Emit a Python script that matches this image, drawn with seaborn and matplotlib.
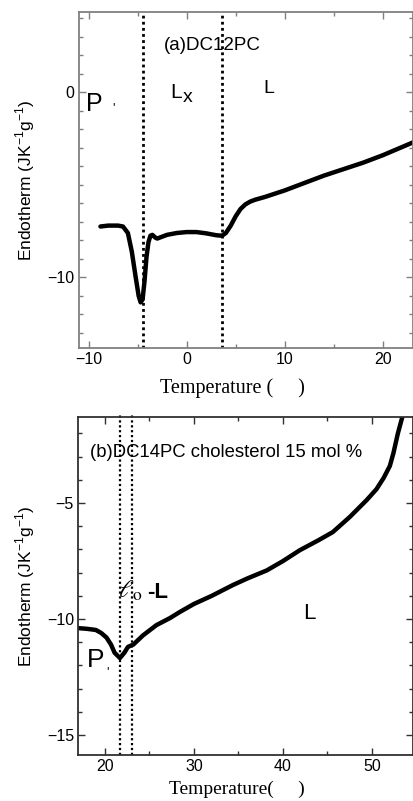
import matplotlib
matplotlib.use("Agg")
import matplotlib.pyplot as plt
import seaborn as sns
import pandas as pd
from matplotlib.ticker import MultipleLocator

# ---- data: panel (a) DC12PC ----
temp_a = [-8.8, -8.0, -7.0, -6.5, -6.0, -5.6, -5.2, -4.9, -4.7, -4.5, -4.3, -4.1,
          -3.9, -3.7, -3.5, -3.2, -3.0, -2.5, -2.0, -1.0, 0.0, 1.0, 2.0, 3.0, 3.6,
          4.0, 4.5, 5.0, 5.5, 6.0, 6.5, 7.0, 8.0, 10.0, 12.0, 14.0, 16.0, 18.0,
          20.0, 22.0, 23.1]
endo_a = [-7.25, -7.2, -7.2, -7.25, -7.6, -8.6, -10.0, -11.0, -11.35, -11.2, -10.2,
          -8.9, -8.1, -7.75, -7.7, -7.85, -7.9, -7.8, -7.7, -7.6, -7.55, -7.55,
          -7.62, -7.72, -7.75, -7.6, -7.2, -6.7, -6.3, -6.05, -5.9, -5.8, -5.65,
          -5.3, -4.9, -4.5, -4.15, -3.8, -3.4, -2.95, -2.7]
trans_a = [-4.5, 3.65]

# ---- data: panel (b) DC14PC + cholesterol 15 mol % ----
temp_b = [17.0, 18.0, 19.0, 19.6, 20.2, 20.7, 21.1, 21.7, 22.2, 22.6, 23.2, 24.3,
          25.8, 27.3, 28.4, 30.0, 32.0, 34.4, 36.0, 38.2, 40.0, 41.9, 44.0, 45.6,
          47.5, 49.4, 50.5, 51.3, 52.0, 52.4, 52.9, 53.4, 53.7]
endo_b = [-10.39, -10.42, -10.47, -10.6, -10.8, -11.1, -11.45, -11.68, -11.45,
          -11.2, -11.1, -10.7, -10.26, -9.96, -9.7, -9.35, -9.0, -8.53, -8.25,
          -7.9, -7.5, -7.03, -6.6, -6.25, -5.6, -4.87, -4.4, -3.92, -3.4, -2.85,
          -2.0, -1.29, -0.3]
trans_b = [21.7, 23.1]

xticks_a = [-10, 0, 10, 20]
yticks_a = [0, -10]
xticks_b = [20, 30, 40, 50]
yticks_b = [-5, -10, -15]

sns.set_style("ticks")
plt.rcParams["font.family"] = ["Liberation Sans", "DejaVu Sans"]
plt.rcParams["axes.unicode_minus"] = True
plt.rcParams["text.color"] = "black"
plt.rcParams["axes.labelcolor"] = "black"

fig = plt.figure(figsize=(4.13, 8.01), dpi=100)
ax1 = fig.add_axes([0.191, 0.5655, 0.809, 0.4198])
ax2 = fig.add_axes([0.189, 0.0574, 0.811, 0.422])

df_a = pd.DataFrame({"T": temp_a, "E": endo_a})
df_b = pd.DataFrame({"T": temp_b, "E": endo_b})

sns.lineplot(data=df_a, x="T", y="E", ax=ax1, color="black", lw=3.2,
             solid_capstyle="round", solid_joinstyle="round")
sns.lineplot(data=df_b, x="T", y="E", ax=ax2, color="black", lw=3.2,
             solid_capstyle="round", solid_joinstyle="round")

for t in trans_a:
    ax1.axvline(t, color="black", lw=2.0, ls=(0, (1, 1.2)))
for t in trans_b:
    ax2.axvline(t, color="black", lw=1.6, ls=(0, (1, 1.2)), ymax=1.01, clip_on=False)

ax1.set_xlim(-11.0, 23.1)
ax1.set_ylim(-13.82, 4.36)
ax2.set_xlim(17.0, 54.6)
ax2.set_ylim(-15.86, -1.29)

for ax, xt, yt, sc in [(ax1, xticks_a, yticks_a, "#808080"),
                       (ax2, xticks_b, yticks_b, "#303030")]:
    ax.set_xticks(xt)
    ax.set_yticks(yt)
    ax.xaxis.set_minor_locator(MultipleLocator(5))
    ax.yaxis.set_minor_locator(MultipleLocator(1))
    ax.tick_params(which="both", direction="in", top=True, right=True,
                   labelsize=11.5, pad=3, color=sc, labelcolor="black")
    ax.tick_params(which="major", length=5, width=1)
    ax.tick_params(which="minor", length=3, width=1)
    for s in ax.spines.values():
        s.set_color(sc)
        s.set_linewidth(1.3)

ylab = r"Endotherm (JK$^{\mathregular{-1}}$g$^{\mathregular{-1}}$)"
ax1.set_ylabel(ylab, fontsize=12.5)
ax2.set_ylabel(ylab, fontsize=12.5)
ax1.yaxis.set_label_coords(-0.125, 0.5)
ax2.yaxis.set_label_coords(-0.122, 0.5)

ax1.set_xlabel("Temperature (     )", fontsize=14.5, family="Liberation Serif")
ax2.set_xlabel("Temperature(     )", fontsize=14, family="Liberation Serif")
ax1.xaxis.set_label_coords(0.46, -0.09)
ax2.xaxis.set_label_coords(0.475, -0.076)

# annotations panel (a)
ax1.text(-2.35, 2.54, "(a)DC12PC", fontsize=13.5, ha="left", va="center")
ax1.text(-10.3, -0.65, "P", fontsize=18, ha="left", va="center")
ax1.text(-7.45, -0.86, "'", fontsize=9, ha="center", va="center")
ax1.text(-1.63, -0.03, "L", fontsize=15, ha="left", va="center")
ax1.text(-0.35, -0.3, "x", fontsize=14, ha="left", va="center")
ax1.text(7.86, 0.19, "L", fontsize=14, ha="left", va="center")

# annotations panel (b)
ax2.text(18.3, -2.8, "(b)DC14PC cholesterol 15 mol %", fontsize=13.3,
         ha="left", va="center")
ax2.text(21.45, -8.8, r"$\ell_{\mathrm{o}}$", fontsize=18, ha="left", va="center",
         math_fontfamily="stix")
ax2.text(24.8, -8.84, "-L", fontsize=16, ha="left", va="center", weight="bold")
ax2.text(42.25, -9.74, "L", fontsize=16, ha="left", va="center")
ax2.text(17.98, -11.77, "P", fontsize=19, ha="left", va="center")
ax2.text(20.3, -12.3, "'", fontsize=9, ha="center", va="center")

fig.savefig("out.png", dpi=100)
